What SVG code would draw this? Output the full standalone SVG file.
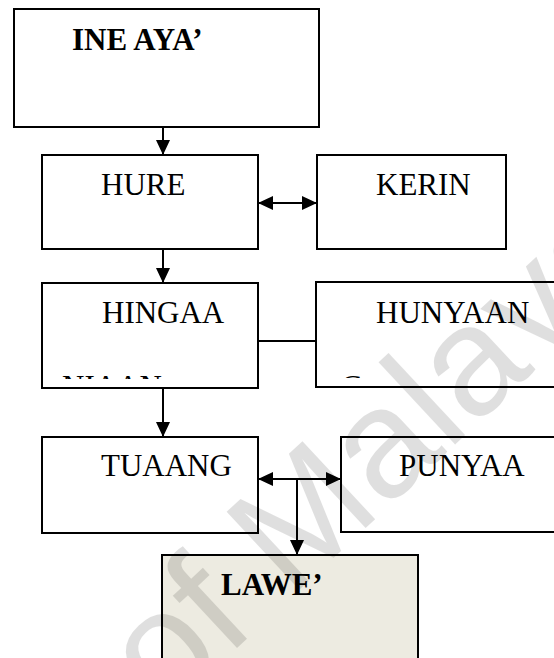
<svg xmlns="http://www.w3.org/2000/svg" width="554" height="658" viewBox="0 0 554 658">
<style>
.box{fill:#fff;stroke:#000;stroke-width:2}
.shade{fill:#EDEBE1;stroke:#000;stroke-width:2}
.t{font-family:"Liberation Serif","Times New Roman",serif;font-size:31px;fill:#000}
.b{font-weight:bold}
.c{stroke:#000;stroke-width:2;fill:none}
.wm{font-family:"Liberation Sans",Arial,sans-serif;font-size:155px;fill:#000;opacity:0.12}
</style>
<defs>
<marker id="ah" markerUnits="userSpaceOnUse" markerWidth="15" markerHeight="14" refX="15" refY="7" orient="auto-start-reverse">
<path d="M0,0 L15,7 L0,14 z" fill="#000"/>
</marker>
<clipPath id="clipHingaa"><rect x="43" y="284" width="214" height="95"/></clipPath>
<clipPath id="clipHunyaan"><rect x="317" y="283" width="240" height="95"/></clipPath>
</defs>
<rect width="554" height="658" fill="#fff"/>
<g id="node-ine-aya">
<rect class="box" x="14" y="9" width="305" height="118"/>
<text class="t b" x="72" y="50">INE AYA’</text>
</g>
<g id="node-hure">
<rect class="box" x="42" y="155" width="216" height="94"/>
<text class="t" x="101" y="195">HURE</text>
</g>
<g id="node-kerin">
<rect class="box" x="317" y="155" width="189" height="94"/>
<text class="t" x="376" y="195">KERIN</text>
</g>
<g id="node-hingaa">
<rect class="box" x="42" y="283" width="216" height="105"/>
<text class="t" x="102" y="323">HINGAA</text>
<text class="t" x="62" y="397" clip-path="url(#clipHingaa)">NIAAN</text>
</g>
<g id="node-hunyaan">
<rect class="box" x="316" y="282" width="250" height="105"/>
<text class="t" x="376" y="323">HUNYAAN</text>
<text class="t" x="341" y="397" clip-path="url(#clipHunyaan)">C</text>
</g>
<g id="node-tuaang">
<rect class="box" x="42" y="437" width="216" height="96"/>
<text class="t" x="101" y="476">TUAANG</text>
</g>
<g id="node-punyaa">
<rect class="box" x="341" y="437" width="230" height="95"/>
<text class="t" x="399" y="476">PUNYAA</text>
</g>
<g id="node-lawe">
<rect class="shade" x="162" y="555" width="256" height="120"/>
<text class="t b" x="221" y="595">LAWE’</text>
</g>
<g id="connectors">
<line class="c" x1="163" y1="127" x2="163" y2="155" marker-end="url(#ah)"/>
<line class="c" x1="258" y1="203" x2="317" y2="203" marker-start="url(#ah)" marker-end="url(#ah)"/>
<line class="c" x1="163" y1="249" x2="163" y2="283" marker-end="url(#ah)"/>
<line class="c" x1="258" y1="341" x2="316" y2="341"/>
<line class="c" x1="163" y1="388" x2="163" y2="437" marker-end="url(#ah)"/>
<line class="c" x1="258" y1="479" x2="341" y2="479" marker-start="url(#ah)" marker-end="url(#ah)"/>
<line class="c" x1="297" y1="479" x2="297" y2="555" marker-end="url(#ah)"/>
</g>
<text class="wm" transform="translate(164,716) rotate(-43)">of Malaya</text>
</svg>
